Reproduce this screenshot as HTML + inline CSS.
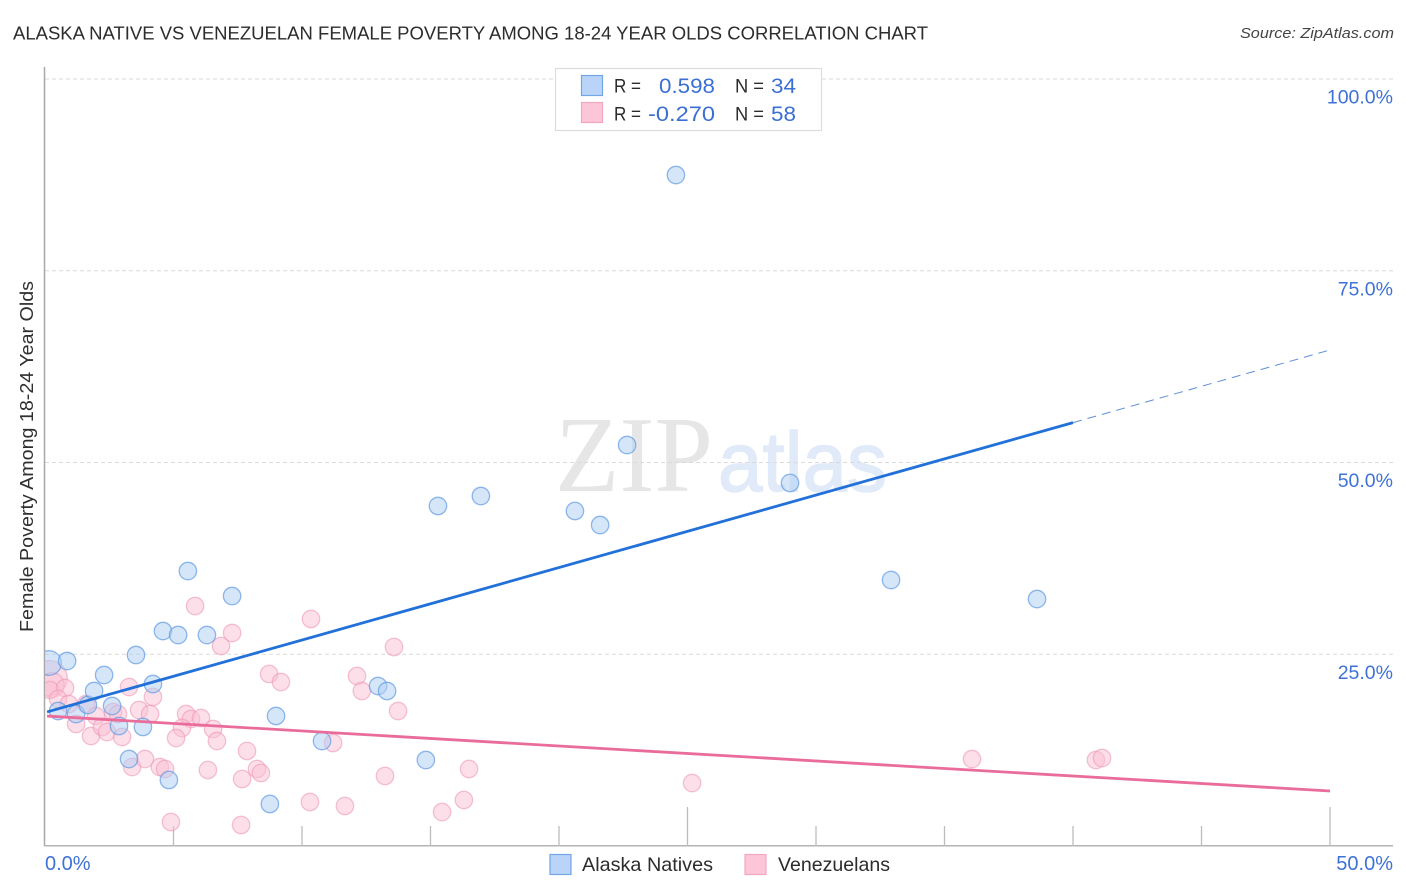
<!DOCTYPE html>
<html>
<head>
<meta charset="utf-8">
<title>Alaska Native vs Venezuelan Female Poverty Correlation Chart</title>
<style>
html,body{margin:0;padding:0;background:#fff;width:1406px;height:892px;overflow:hidden}
svg{display:block}
text{font-family:"Liberation Sans",sans-serif}
</style>
</head>
<body>
<svg id="chart" width="1406" height="892" viewBox="0 0 1406 892" xmlns="http://www.w3.org/2000/svg">
<defs><clipPath id="plot-clip"><rect x="45" y="60" width="1300" height="786"/></clipPath></defs>
<rect x="0" y="0" width="1406" height="892" fill="#fff"/>
<text x="13" y="39.5" font-size="18.6" fill="#2c2c2c" textLength="915" lengthAdjust="spacingAndGlyphs">ALASKA NATIVE VS VENEZUELAN FEMALE POVERTY AMONG 18-24 YEAR OLDS CORRELATION CHART</text>
<text x="1394" y="38" font-size="15" font-style="italic" fill="#444" text-anchor="end" textLength="154" lengthAdjust="spacingAndGlyphs">Source: ZipAtlas.com</text>
<text x="555" y="491" font-size="108" fill="#e6e6e6" style="font-family:'Liberation Serif',serif" textLength="158" lengthAdjust="spacingAndGlyphs">ZIP</text>
<text x="718" y="491" font-size="84" fill="#e0eaf9" stroke="#e0eaf9" stroke-width="1.4" textLength="169" lengthAdjust="spacingAndGlyphs">atlas</text>
<g id="grid"></g>
<g id="axes"></g>
<g id="series" clip-path="url(#plot-clip)"></g>
<g id="trends"></g>
<g id="labels"></g>
<text transform="translate(33,456.5) rotate(-90)" font-size="18.5" fill="#2f2f2f" text-anchor="middle" textLength="351" lengthAdjust="spacingAndGlyphs">Female Poverty Among 18-24 Year Olds</text>
<g>
<rect x="555.5" y="68.5" width="266" height="62" fill="#fff" stroke="#dcdcdc" stroke-width="1.2"/>
<rect x="581.5" y="75.5" width="21" height="20" fill="#b9d4f8" stroke="#72a6e6" stroke-width="1.2"/>
<rect x="581.5" y="102.5" width="21" height="20" fill="#fcc6d8" stroke="#f2a6c0" stroke-width="1.2"/>
<text x="614" y="92.5" font-size="19.5" fill="#2c2c2c" textLength="27" lengthAdjust="spacingAndGlyphs">R =</text>
<text x="715" y="93" font-size="21.5" fill="#3b6fd4" text-anchor="end" textLength="56" lengthAdjust="spacingAndGlyphs">0.598</text>
<text x="735" y="92.5" font-size="19.5" fill="#2c2c2c" textLength="29" lengthAdjust="spacingAndGlyphs">N =</text>
<text x="771" y="93" font-size="21.5" fill="#3b6fd4" textLength="25" lengthAdjust="spacingAndGlyphs">34</text>
<text x="614" y="120.5" font-size="19.5" fill="#2c2c2c" textLength="27" lengthAdjust="spacingAndGlyphs">R =</text>
<text x="715" y="121" font-size="21.5" fill="#3b6fd4" text-anchor="end" textLength="67" lengthAdjust="spacingAndGlyphs">-0.270</text>
<text x="735" y="120.5" font-size="19.5" fill="#2c2c2c" textLength="29" lengthAdjust="spacingAndGlyphs">N =</text>
<text x="771" y="121" font-size="21.5" fill="#3b6fd4" textLength="25" lengthAdjust="spacingAndGlyphs">58</text>
</g>
<g>
<rect x="550" y="854.5" width="21" height="20" fill="#b9d4f8" stroke="#72a6e6" stroke-width="1.2"/>
<text x="582" y="871" font-size="19.5" fill="#2c2c2c" textLength="131" lengthAdjust="spacingAndGlyphs">Alaska Natives</text>
<rect x="745" y="854.5" width="21" height="20" fill="#fcc6d8" stroke="#f2a6c0" stroke-width="1.2"/>
<text x="778" y="871" font-size="19.5" fill="#2c2c2c" textLength="112" lengthAdjust="spacingAndGlyphs">Venezuelans</text>
</g>
</svg>
<script>
const xTickValues = [5, 10, 15, 20, 25, 30, 35, 40, 45, 50];
const yGridValues = [25, 50, 75, 100];
const yTickLabels = ["25.0%", "50.0%", "75.0%", "100.0%"];
const xEndLabels = ["0.0%", "50.0%"];
const xEndValues = [0, 50];

const alaskaX = [0.16,0.86,0.51,1.21,1.67,1.91,2.30,2.61,2.88,3.81,3.27,3.54,4.20,4.82,4.59,5.18,5.56,6.30,7.28,8.75,8.99,10.78,12.96,13.31,14.82,15.29,16.96,20.62,21.60,22.65,24.55,28.99,32.92,38.60];
const alaskaY = [23.86,24.12,17.60,17.21,18.38,20.21,22.29,18.25,15.65,15.52,11.34,24.90,21.12,8.61,28.03,27.51,35.85,27.51,32.59,5.48,16.95,13.69,20.86,20.21,11.21,44.33,45.63,43.68,41.85,52.28,87.48,47.33,34.68,32.20];
const alaskaWeight = [2,1,1,1,1,1,1,1,1,1,1,1,1,1,1,1,1,1,1,1,1,1,1,1,1,1,1,1,1,1,1,1,1,1];

const venezuelanX = [0.19,0.27,0.19,0.78,0.51,0.93,1.60,1.98,1.21,1.79,2.22,2.41,2.65,2.84,3.00,3.27,4.20,3.66,4.09,3.39,3.89,4.47,4.67,5.49,5.68,6.07,5.33,5.10,6.54,6.69,5.84,6.85,7.28,7.86,6.34,7.67,8.25,8.40,4.90,7.63,10.31,11.67,10.35,8.72,9.18,11.21,12.14,12.33,13.58,13.74,13.23,16.50,15.45,16.30,25.18,36.07,40.89,41.13];
const venezuelanY = [21.90,20.99,20.34,20.60,19.17,18.51,18.51,16.95,15.91,14.34,15.52,14.86,17.47,17.21,14.21,20.73,19.43,17.73,17.21,10.30,11.34,10.30,10.04,17.21,16.56,16.69,15.38,14.08,15.25,13.69,31.29,26.08,27.77,12.39,9.91,8.74,10.04,9.52,3.13,2.74,5.74,5.22,29.60,22.43,21.38,13.43,22.16,20.21,25.95,17.60,9.13,10.04,4.43,6.00,8.21,11.34,11.21,11.47];
const venezuelanWeight = [4,2,1,1,1,1,1,1,1,1,1,1,1,1,1,1,1,1,1,1,1,1,1,1,1,1,1,1,1,1,1,1,1,1,1,1,1,1,1,1,1,1,1,1,1,1,1,1,1,1,1,1,1,1,1,1,1,1];

const alaskaTrendX = [0.08, 40];
const alaskaTrendY = [17.48, 55.2];
const alaskaProjectionX = [40, 50];
const alaskaProjectionY = [55.2, 64.67];
const venezuelanTrendX = [0.08, 50];
const venezuelanTrendY = [16.94, 7.17];

const SVGNS = "http://www.w3.org/2000/svg";
const sx = v => 45 + (v / 50) * 1285;
const sy = v => 846 - (v / 100) * 767;
const radius = w => 8.7 * Math.sqrt(w);

function make(parent, tag, attrs) {
  const el = document.createElementNS(SVGNS, tag);
  for (const k in attrs) el.setAttribute(k, attrs[k]);
  parent.appendChild(el);
  return el;
}

const gridG = document.getElementById("grid");
yGridValues.forEach(function (v) {
  const el = make(gridG, "line", {x1: 45, x2: 1395, y1: sy(v), y2: sy(v), stroke: "#dadada", "stroke-width": 1, "stroke-dasharray": "4 3"});
  
  
});

const axesG = document.getElementById("axes");
const yAxisLine = make(axesG, "line", {x1: 44.5, x2: 44.5, y1: 67, y2: 846.5, stroke: "#a8a8a8", "stroke-width": 1.5});


const xAxisLine = make(axesG, "line", {x1: 44, x2: 1393, y1: 845.7, y2: 845.7, stroke: "#b4b4b4", "stroke-width": 1.5});


xTickValues.forEach(function (v) {
  const top = v % 25 === 0 ? 807 : 826;
  const el = make(axesG, "line", {x1: sx(v), x2: sx(v), y1: top, y2: 846, stroke: "#bdbdbd", "stroke-width": 1.3});
  
  
});

const seriesG = document.getElementById("series");
function drawPoints(xs, ys, ws, fill, stroke, strokeOpacity, name) {
  xs.forEach(function (x, i) {
    const el = make(seriesG, "circle", {cx: sx(x), cy: sy(ys[i]), r: radius(ws[i]), fill: fill, "fill-opacity": 0.5, stroke: stroke, "stroke-opacity": strokeOpacity, "stroke-width": 1.3});
    
    
  });
}
drawPoints(venezuelanX, venezuelanY, venezuelanWeight, "#f9c0d3", "#ef9ab8", 0.6, "venezuelan-point");
drawPoints(alaskaX, alaskaY, alaskaWeight, "#aecdf4", "#5f9ae3", 0.7, "alaska-native-point");

const trendsG = document.getElementById("trends");
const venezuelanLine = make(trendsG, "line", {x1: sx(venezuelanTrendX[0]), y1: sy(venezuelanTrendY[0]), x2: sx(venezuelanTrendX[1]), y2: sy(venezuelanTrendY[1]), stroke: "#ea6c9b", "stroke-width": 2.8});


const alaskaLine = make(trendsG, "line", {x1: sx(alaskaTrendX[0]), y1: sy(alaskaTrendY[0]), x2: sx(alaskaTrendX[1]), y2: sy(alaskaTrendY[1]), stroke: "#2271d9", "stroke-width": 2.8});


const alaskaDash = make(trendsG, "line", {x1: sx(alaskaProjectionX[0]), y1: sy(alaskaProjectionY[0]), x2: sx(alaskaProjectionX[1]), y2: sy(alaskaProjectionY[1]), stroke: "#5f8fd6", "stroke-width": 1, "stroke-dasharray": "9 6"});



const labelsG = document.getElementById("labels");
yGridValues.forEach(function (v, i) {
  const el = make(labelsG, "text", {x: 1393, y: sy(v) + 24.5, "font-size": 19.5, fill: "#3f72d6", "text-anchor": "end"});
  el.textContent = yTickLabels[i];
  
  
});
xEndValues.forEach(function (v, i) {
  const el = make(labelsG, "text", {x: v === 0 ? 45 : 1393, y: 870, "font-size": 20, fill: "#3f72d6", "text-anchor": v === 0 ? "start" : "end"});
  el.textContent = xEndLabels[i];
  
  
});
</script>
</body>
</html>
